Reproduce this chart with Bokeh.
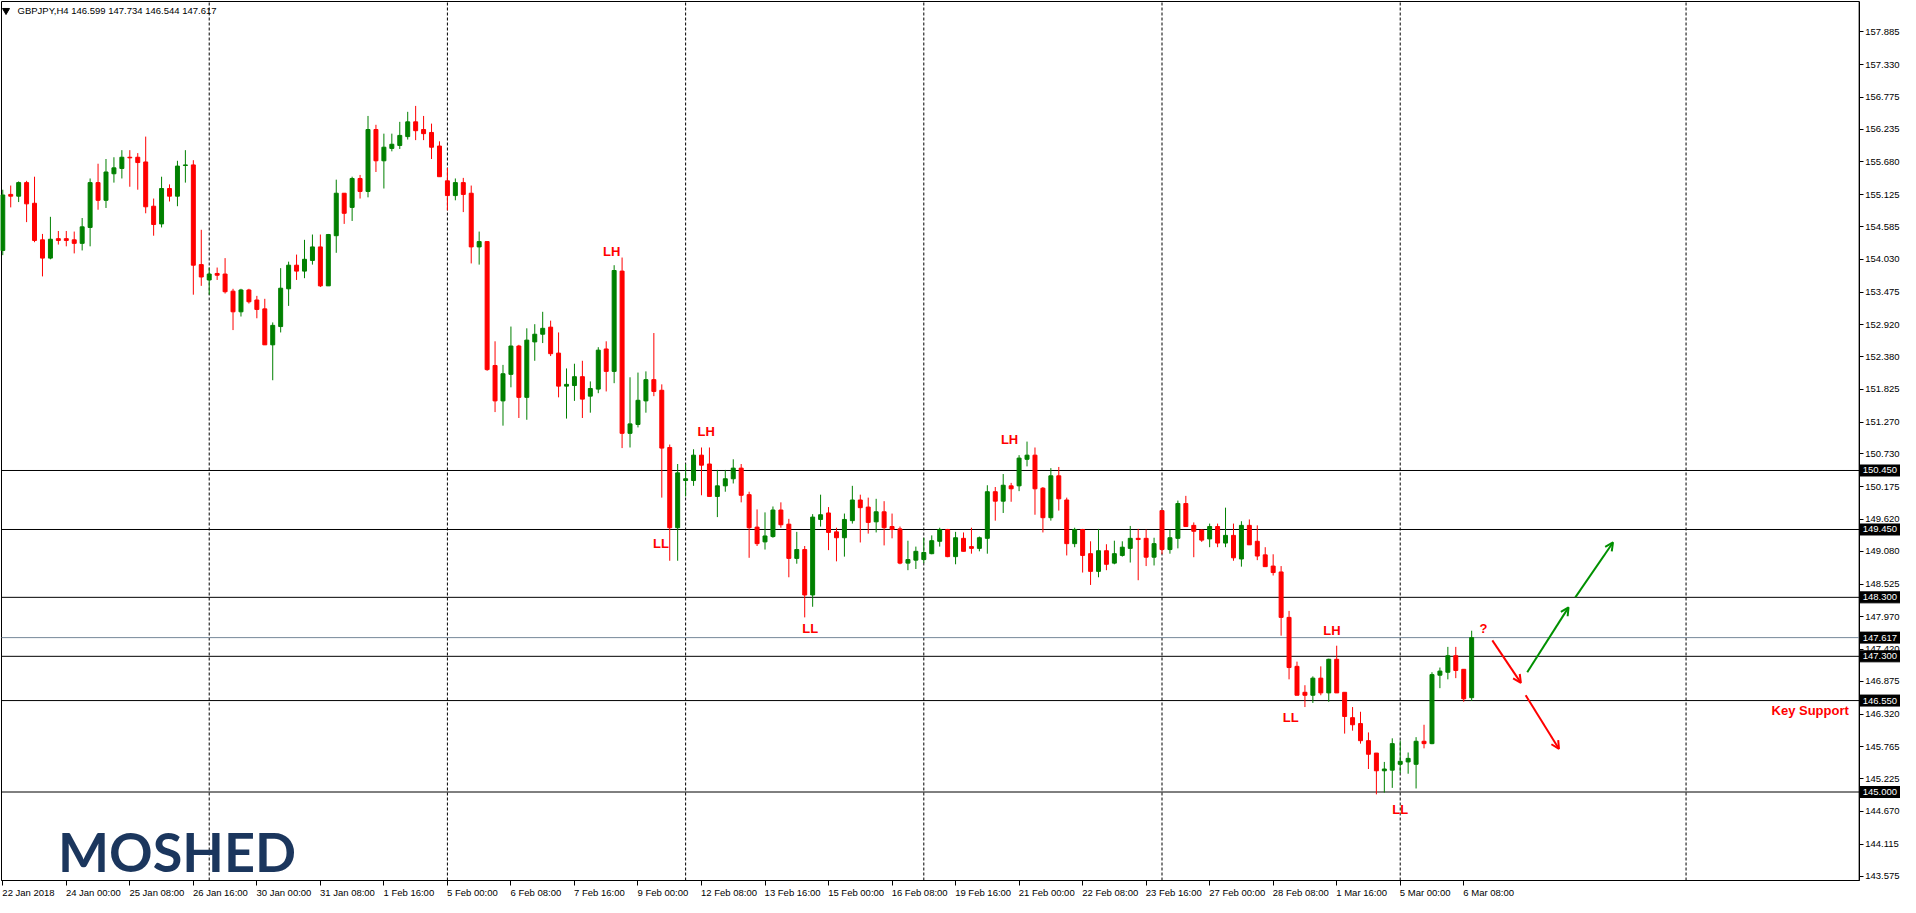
from bokeh.plotting import figure
from bokeh.models import (Range1d, LinearAxis, FixedTicker, PrintfTickFormatter,
                          Label, Arrow, OpenHead, ColumnDataSource, Grid)
from bokeh.embed import file_html
from bokeh.resources import INLINE
from bokeh.core.properties import value

symbol = "GBPJPY,H4"

opens = [154.18, 155.13, 155.10, 155.33, 154.98, 154.36, 154.05, 154.38, 154.38, 154.36,
         154.30, 154.57, 155.33, 155.03, 155.48, 155.57, 155.76, 155.76, 155.68, 154.93,
         154.63, 155.23, 155.10, 155.62, 155.63, 153.94, 153.68, 153.79, 153.78, 153.49,
         153.14, 153.51, 153.34, 153.19, 152.58, 152.89, 153.53, 153.93, 153.83, 154.01,
         154.24, 153.58, 154.43, 155.15, 154.91, 155.40, 155.18, 156.23, 155.70, 155.91,
         155.96, 156.11, 156.36, 156.23, 156.18, 155.95, 155.36, 155.11, 155.33, 155.15,
         154.24, 154.33, 152.23, 151.63, 152.08, 152.56, 151.69, 152.63, 152.76, 152.88,
         152.44, 151.88, 151.89, 152.04, 151.71, 151.83, 152.51, 152.13, 153.83, 151.08,
         151.23, 151.63, 151.99, 151.81, 150.84, 149.48, 150.28, 150.28, 150.71, 150.56,
         150.01, 150.19, 150.31, 150.49, 150.04, 149.49, 149.24, 149.33, 149.78, 149.54,
         148.96, 149.11, 148.34, 149.62, 149.73, 149.41, 149.31, 149.60, 149.95, 149.83,
         149.58, 149.75, 149.50, 149.46, 148.88, 148.93, 148.94, 149.04, 149.25, 149.45,
         148.99, 149.30, 149.16, 149.13, 149.30, 150.09, 149.93, 150.19, 150.19, 150.64,
         150.71, 150.15, 149.65, 150.36, 149.95, 149.21, 149.45, 149.04, 148.74, 149.09,
         148.88, 149.01, 149.13, 149.30, 149.30, 148.98, 149.77, 149.11, 149.30, 149.89,
         149.52, 149.44, 149.29, 149.50, 149.22, 149.35, 148.95, 149.52, 149.25, 149.02,
         148.83, 148.73, 147.96, 147.13, 146.69, 146.64, 146.93, 146.68, 147.25, 146.69,
         146.26, 146.16, 145.87, 145.66, 145.36, 145.37, 145.47, 145.51, 145.47, 145.86,
         145.82, 146.98, 147.03, 147.31, 147.08, 146.599]
highs = [155.21, 155.28, 155.35, 155.36, 155.43, 154.46, 154.75, 154.51, 154.51, 154.50,
         154.73, 155.40, 155.65, 155.73, 155.76, 155.88, 155.88, 155.83, 156.11, 155.06,
         155.43, 155.30, 155.70, 155.88, 155.71, 154.53, 153.89, 153.89, 154.05, 153.53,
         153.53, 153.53, 153.41, 153.36, 152.96, 153.88, 153.99, 154.11, 154.36, 154.45,
         154.45, 154.46, 155.38, 155.15, 155.43, 155.46, 156.46, 156.31, 156.16, 156.16,
         156.36, 156.53, 156.63, 156.46, 156.33, 156.03, 155.58, 155.40, 155.41, 155.28,
         154.50, 154.33, 152.64, 152.24, 152.89, 152.58, 152.86, 152.93, 153.14, 152.99,
         152.79, 152.18, 152.26, 152.31, 151.96, 152.54, 152.64, 153.93, 154.06, 152.03,
         152.11, 152.13, 152.78, 151.91, 150.89, 150.56, 150.56, 150.81, 150.84, 150.84,
         150.46, 150.46, 150.64, 150.56, 150.09, 149.79, 149.74, 149.84, 149.91, 149.63,
         149.41, 149.17, 149.71, 150.04, 149.83, 149.48, 149.72, 150.19, 150.04, 149.99,
         149.97, 149.93, 149.72, 149.50, 149.26, 149.16, 149.31, 149.35, 149.48, 149.46,
         149.41, 149.40, 149.48, 149.33, 150.20, 150.17, 150.39, 150.24, 150.71, 150.94,
         150.84, 150.17, 150.49, 150.51, 149.99, 149.48, 149.46, 149.25, 149.46, 149.20,
         149.26, 149.25, 149.51, 149.46, 149.45, 149.31, 149.78, 149.45, 149.94, 150.02,
         149.57, 149.45, 149.55, 149.55, 149.82, 149.55, 149.59, 149.62, 149.52, 149.15,
         149.03, 148.83, 148.07, 147.21, 146.81, 146.96, 147.13, 147.26, 147.48, 146.69,
         146.44, 146.36, 146.01, 145.66, 145.51, 145.91, 145.87, 145.67, 145.93, 146.14,
         147.03, 147.11, 147.46, 147.46, 147.08, 147.734]
lows = [154.10, 154.91, 155.00, 154.66, 154.32, 153.74, 154.03, 154.28, 154.25, 154.13,
        154.18, 154.25, 154.87, 154.90, 155.33, 155.40, 155.26, 155.21, 154.81, 154.43,
        154.57, 155.01, 154.93, 155.33, 153.43, 153.58, 153.43, 153.68, 153.45, 152.83,
        153.06, 153.28, 153.03, 152.58, 151.98, 152.79, 153.24, 153.68, 153.71, 153.94,
        153.56, 153.58, 154.14, 154.63, 154.68, 155.06, 155.08, 155.51, 155.23, 155.86,
        155.90, 156.06, 156.05, 156.05, 155.73, 155.43, 154.86, 155.03, 154.83, 153.96,
        153.94, 152.14, 151.44, 151.21, 151.86, 151.34, 151.31, 152.31, 152.61, 152.39,
        151.69, 151.33, 151.63, 151.34, 151.43, 151.76, 151.79, 151.93, 150.83, 150.84,
        151.18, 151.43, 151.71, 149.99, 148.92, 148.92, 150.01, 150.19, 150.03, 150.01,
        149.66, 150.09, 150.23, 149.91, 148.97, 149.17, 149.11, 149.31, 149.48, 148.64,
        148.87, 147.96, 148.14, 149.50, 149.10, 148.91, 148.99, 149.55, 149.23, 149.38,
        149.40, 149.18, 149.30, 148.86, 148.76, 148.78, 148.88, 149.03, 149.16, 148.98,
        148.86, 149.08, 149.04, 149.08, 149.04, 149.60, 149.73, 149.92, 150.10, 150.52,
        149.70, 149.40, 149.60, 149.77, 149.01, 149.15, 148.72, 148.51, 148.64, 148.76,
        148.86, 148.99, 148.89, 148.59, 148.83, 148.84, 149.03, 149.04, 149.13, 149.50,
        148.98, 149.24, 149.15, 149.15, 149.15, 148.92, 148.82, 149.19, 148.93, 148.82,
        148.67, 147.65, 146.91, 146.64, 146.44, 146.51, 146.64, 146.53, 146.68, 145.99,
        146.04, 145.82, 145.39, 144.96, 144.99, 145.07, 145.32, 145.31, 145.06, 145.74,
        145.81, 146.76, 146.91, 146.93, 146.53, 146.544]
closes = [155.12, 155.10, 155.33, 154.97, 154.35, 154.05, 154.37, 154.35, 154.35, 154.30,
          154.58, 155.33, 155.03, 155.51, 155.58, 155.76, 155.75, 155.67, 154.92, 154.62,
          155.23, 155.10, 155.61, 155.63, 153.93, 153.73, 153.78, 153.76, 153.48, 153.14,
          153.51, 153.31, 153.18, 152.58, 152.91, 153.54, 153.93, 153.83, 154.03, 154.24,
          153.58, 154.45, 155.15, 154.81, 155.40, 155.18, 156.23, 155.70, 155.93, 155.98,
          156.13, 156.36, 156.21, 156.16, 155.93, 155.43, 155.11, 155.33, 155.13, 154.24,
          154.33, 152.16, 151.63, 152.09, 152.56, 151.69, 152.66, 152.76, 152.86, 152.43,
          151.88, 151.91, 152.04, 151.66, 151.84, 152.49, 152.13, 153.84, 151.08, 151.24,
          151.64, 151.99, 151.79, 150.83, 149.48, 150.41, 150.31, 150.71, 150.54, 150.01,
          150.19, 150.31, 150.49, 150.03, 149.48, 149.21, 149.34, 149.78, 149.53, 148.96,
          149.11, 148.34, 149.66, 149.70, 149.40, 149.31, 149.62, 149.95, 149.82, 149.57,
          149.75, 149.48, 149.45, 148.88, 148.94, 149.08, 149.06, 149.26, 149.45, 148.99,
          149.31, 149.08, 149.13, 149.31, 150.09, 149.93, 150.20, 150.14, 150.66, 150.71,
          150.14, 149.65, 150.36, 149.97, 149.21, 149.45, 149.01, 148.74, 149.09, 148.86,
          149.04, 149.15, 149.30, 149.28, 148.98, 149.21, 149.11, 149.31, 149.89, 149.50,
          149.42, 149.27, 149.50, 149.22, 149.35, 148.97, 149.52, 149.19, 149.00, 148.82,
          148.72, 147.96, 147.11, 146.64, 146.64, 146.93, 146.68, 147.25, 146.68, 146.28,
          146.14, 145.87, 145.64, 145.36, 145.39, 145.82, 145.52, 145.57, 145.86, 145.82,
          146.99, 147.05, 147.31, 147.06, 146.58, 147.617]

# bar index -> time label (every 8 bars)
time_tick_bars = [0, 8, 16, 24, 32, 40, 48, 56, 64, 72, 80, 88, 96, 104, 112, 120,
                  128, 136, 144, 152, 160, 168, 176, 184]
time_tick_labels = ["22 Jan 2018", "24 Jan 00:00", "25 Jan 08:00", "26 Jan 16:00",
                    "30 Jan 00:00", "31 Jan 08:00", "1 Feb 16:00", "5 Feb 00:00",
                    "6 Feb 08:00", "7 Feb 16:00", "9 Feb 00:00", "12 Feb 08:00",
                    "13 Feb 16:00", "15 Feb 00:00", "16 Feb 08:00", "19 Feb 16:00",
                    "21 Feb 00:00", "22 Feb 08:00", "23 Feb 16:00", "27 Feb 00:00",
                    "28 Feb 08:00", "1 Mar 16:00", "5 Mar 00:00", "6 Mar 08:00"]
week_separator_bars = [26, 56, 86, 116, 146, 176, 212]

price_ticks = [157.885, 157.330, 156.775, 156.235, 155.680, 155.125, 154.585, 154.030,
               153.475, 152.920, 152.380, 151.825, 151.270, 150.730, 150.175, 149.620,
               149.080, 148.525, 147.970, 147.420, 146.875, 146.320, 145.765, 145.225,
               144.670, 144.115, 143.575]
level_lines = [150.450, 149.450, 148.300, 147.300, 146.550, 145.000]
bid_price = 147.617

swing_text = ["LH", "LH", "LL", "LL", "LH", "LH", "LL", "LL"]
swing_bar = [76.7, 88.6, 82.9, 101.7, 126.8, 167.4, 162.2, 176.0]
swing_price = [154.16, 151.11, 149.22, 147.78, 150.97, 147.73, 146.26, 144.70]

arrow_color = ["red", "green", "green", "red"]
arrow_x0 = [187.6, 192.0, 198.05, 191.8]
arrow_y0 = [147.57, 147.03, 148.30, 146.64]
arrow_x1 = [191.2, 197.2, 202.8, 196.0]
arrow_y1 = [146.85, 148.13, 149.23, 145.73]

# ---------------------------------------------------------------- layout
W, H = 1900, 897
X0, X1 = -0.16, 233.8          # chart window (bars)
Y0, Y1 = 143.50, 158.40        # chart window (price)
PX_X = 7.94                    # pixels per bar
XL = X0 - 1.0 / PX_X
XR = XL + W / PX_X
CHART_H = 879.0
PX_Y = (Y1 - Y0) / CHART_H     # price per pixel
YT = Y1 + 1 * PX_Y
YB = YT - H * PX_Y

AXFONT = "Liberation Sans"
AXSIZE = "9.5px"
GREEN = "#008000"
RED = "#ff0000"

p = figure(width=W, height=H, output_backend="svg", toolbar_location=None,
           x_range=Range1d(XL, XR), y_range=Range1d(YB, YT),
           x_axis_location=None, y_axis_location=None,
           min_border_left=0, min_border_top=0, min_border_right=0, min_border_bottom=0)
p.center = [r for r in p.center if not isinstance(r, Grid)]
p.outline_line_color = None
p.background_fill_color = "white"
p.border_fill_color = "white"

# chart border
p.quad(left=[X0], right=[X1], bottom=[Y0], top=[Y1], fill_color=None,
       line_color="black", line_width=1)

# right price axis
ry = LinearAxis(ticker=FixedTicker(ticks=price_ticks),
                formatter=PrintfTickFormatter(format="%.3f"),
                fixed_location=X1, bounds=(Y0, Y1))
ry.major_tick_out = 4
ry.major_tick_in = 0
ry.minor_tick_out = 0
ry.minor_tick_in = 0
ry.major_label_standoff = 2
ry.major_label_text_font = AXFONT
ry.major_label_text_font_size = AXSIZE
ry.major_label_text_color = "black"
ry.axis_line_color = "black"
p.add_layout(ry, "right")

# bottom time axis: tick marks
bx = LinearAxis(ticker=FixedTicker(ticks=time_tick_bars),
                major_label_overrides={b: "" for b in time_tick_bars},
                fixed_location=Y0, bounds=(X0, X1))
bx.major_tick_out = 5
bx.major_tick_in = 0
bx.minor_tick_out = 0
bx.minor_tick_in = 0
bx.major_label_text_font_size = "1px"
bx.axis_line_color = "black"
p.add_layout(bx, "below")

# bottom time axis: labels, starting at their tick (MT4 style)
CW = {"0": .556, "1": .556, "2": .556, "3": .556, "4": .556, "5": .556, "6": .556,
      "7": .556, "8": .556, "9": .556, " ": .278, ":": .278, "J": .5, "F": .611,
      "M": .833, "a": .556, "n": .556, "e": .556, "b": .556, "r": .333}
def text_w(s, size=9.5):
    return sum(CW.get(ch, .556) for ch in s) * size

label_pos = [round(b - 0.05 + text_w(t) / 2 / PX_X, 4)
             for b, t in zip(time_tick_bars, time_tick_labels)]
bl = LinearAxis(ticker=FixedTicker(ticks=label_pos),
                major_label_overrides={lp: t for lp, t in zip(label_pos, time_tick_labels)},
                fixed_location=Y0)
bl.major_tick_out = 4
bl.major_tick_in = 0
bl.major_tick_line_color = None
bl.minor_tick_out = 0
bl.minor_tick_in = 0
bl.minor_tick_line_color = None
bl.axis_line_color = None
bl.major_label_standoff = 2
bl.major_label_text_font = AXFONT
bl.major_label_text_font_size = AXSIZE
bl.major_label_text_color = "black"
p.add_layout(bl, "below")

# weekly separators
p.segment(x0=week_separator_bars, y0=[Y0] * len(week_separator_bars),
          x1=week_separator_bars, y1=[Y1] * len(week_separator_bars),
          line_color="black", line_width=1, line_dash="3 2")

# horizontal levels
p.segment(x0=[X0] * len(level_lines), y0=level_lines, x1=[X1] * len(level_lines),
          y1=level_lines, line_color="black", line_width=1)
p.segment(x0=[X0], y0=[bid_price], x1=[X1], y1=[bid_price], line_color="#778899",
          line_width=1)

# candles
xs = list(range(len(opens)))
colors = [GREEN if c >= o else RED for o, c in zip(opens, closes)]
src = ColumnDataSource(dict(
    x=xs, o=opens, h=highs, l=lows, c=closes,
    top=[max(o, c) for o, c in zip(opens, closes)],
    bottom=[min(o, c) for o, c in zip(opens, closes)],
    color=colors))
p.segment(x0="x", y0="l", x1="x", y1="h", line_color="color", line_width=1, source=src)
p.vbar(x="x", width=0.5, top="top", bottom="bottom", fill_color="color",
       line_color="color", line_width=1, source=src)

# highlighted price labels on the price axis
hl = level_lines + [bid_price]
box_w = 41
p.rect(x=[X1 + (box_w / 2 + 0.5) / PX_X] * len(hl), y=hl, width=box_w, height=11,
       width_units="screen", height_units="screen", fill_color="black",
       line_color="black")
p.text(x=[X1 + 3.5 / PX_X] * len(hl), y=hl, text=[f"{v:.3f}" for v in hl],
       text_align="left", text_baseline="middle", text_color="white",
       text_font=value(AXFONT), text_font_size=value(AXSIZE))

# swing labels
for t, b, pr in zip(swing_text, swing_bar, swing_price):
    p.add_layout(Label(x=b, y=pr, text=t, text_align="center", text_baseline="middle",
                       text_font=AXFONT, text_font_style="bold", text_font_size="13px",
                       text_color=RED))
p.add_layout(Label(x=186.5, y=147.77, text="?", text_align="center", text_baseline="middle",
                   text_font=AXFONT, text_font_style="bold", text_font_size="13px",
                   text_color=RED))
p.add_layout(Label(x=232.5, y=146.39, text="Key Support", text_align="right",
                   text_baseline="middle", text_font=AXFONT, text_font_style="bold",
                   text_font_size="13px", text_color=RED))

# scenario arrows
for col, xa, ya, xb, yb in zip(arrow_color, arrow_x0, arrow_y0, arrow_x1, arrow_y1):
    cc = RED if col == "red" else "#009000"
    p.add_layout(Arrow(end=OpenHead(size=8, line_color=cc, line_width=2),
                       x_start=xa, y_start=ya, x_end=xb, y_end=yb,
                       line_color=cc, line_width=2))

# header
p.scatter(x=[0.41], y=[Y1 - 9 * PX_Y], marker="inverted_triangle", size=7, color="black")
header = f"{symbol}  {opens[-1]:.3f} {highs[-1]:.3f} {lows[-1]:.3f} {closes[-1]:.3f}"
p.add_layout(Label(x=1.86, y=Y1 - 9 * PX_Y, text=header, text_align="left",
                   text_baseline="middle", text_font=AXFONT, text_font_size=AXSIZE,
                   text_color="black"))

# logo
p.add_layout(Label(x=6.96, y=144.00, text="MOSHED", text_align="left",
                   text_baseline="alphabetic", text_font="Lato", text_font_style="bold",
                   text_font_size="54px", text_color="#1b365d"))

open("out.html", "w").write(file_html(p, INLINE))
